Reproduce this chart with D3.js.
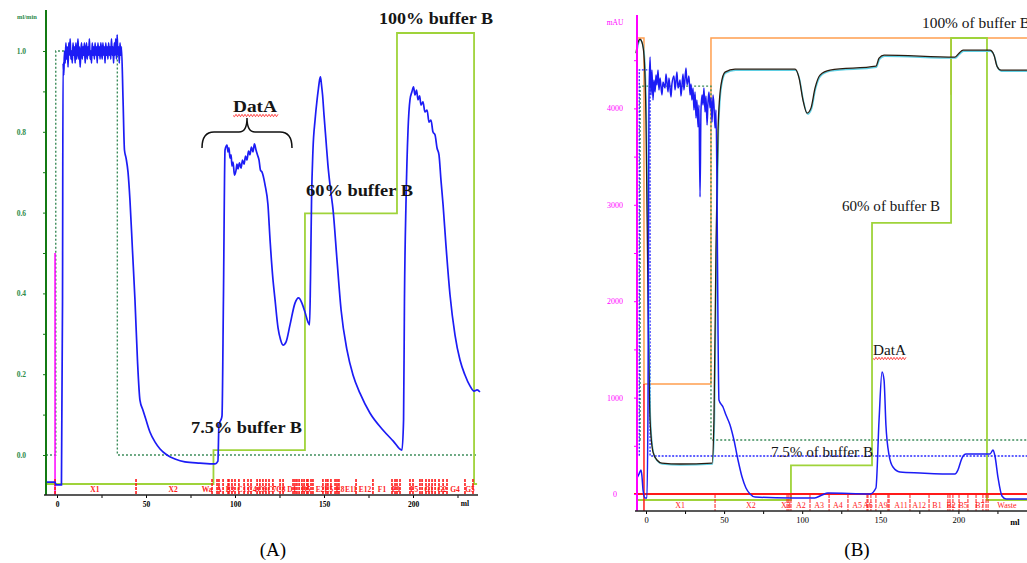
<!DOCTYPE html>
<html>
<head>
<meta charset="utf-8">
<script src="https://cdn.jsdelivr.net/npm/d3@7"></script>
<style>
  body { margin: 0; background: #fff; }
  svg { display: block; }
  text { font-family: "Liberation Serif", "DejaVu Serif", serif; }
</style>
</head>
<body>
<div id="chart"></div>
<script>
// ---------- panel A data (ml, ml/min units of left axis) ----------
const uvA = [
  [-6.2,-0.067],[-1.1,-0.067],[-0.6,-0.074],[2.5,-0.074],[3.1,0.38],[3.4,0.97],
  [3.8,0.94],[4.2,1.00],[4.6,0.97],[5.0,1.02],[5.4,0.98],[5.8,1.01],[6.2,0.96],[6.6,1.02],
  [7.0,0.99],[7.4,1.03],[7.8,0.98],[8.2,1.00],[8.6,0.97],[9.0,1.02],[9.4,0.99],[9.8,1.01],
  [10.2,0.97],[10.6,1.02],[11.0,0.98],[11.4,1.00],[11.8,1.03],[12.2,0.98],[12.6,1.01],
  [13.0,0.96],[13.4,1.00],[13.8,1.02],[14.2,0.98],[14.6,1.01],[15.0,0.99],[15.4,1.02],
  [15.8,0.97],[16.2,1.00],[16.6,1.02],[17.0,0.98],[17.4,1.01],[17.8,0.99],[18.2,1.03],
  [18.6,0.98],[19.0,1.00],[19.4,0.97],[19.8,1.02],[20.2,0.99],[20.6,1.01],[21.0,0.98],
  [21.4,1.02],[21.8,0.99],[22.2,1.01],[22.6,0.97],[23.0,1.02],[23.4,0.99],[23.8,1.01],
  [24.2,0.98],[24.6,1.02],[25.0,1.00],[25.4,0.98],[25.8,1.02],[26.2,0.99],[26.6,1.01],
  [27.0,0.97],[27.4,1.02],[27.8,0.99],[28.2,1.01],[28.6,0.98],[29.0,1.02],[29.4,0.99],
  [29.8,1.01],[30.2,0.98],[30.6,1.03],[31.0,0.99],[31.4,1.01],[31.8,0.97],[32.2,1.02],
  [32.6,0.99],[33.0,1.03],[33.4,0.98],[33.8,1.04],[34.2,0.99],[34.6,1.01],[35.0,0.97],
  [35.4,1.02],[35.8,0.99],[36.2,1.01],
  [37.1,0.88],[37.9,0.755],[38.8,0.735],[39.9,0.70],[41.0,0.63],[42.4,0.507],[43.8,0.384],
  [45.2,0.235],[46.6,0.136],[48.3,0.111],[50.0,0.087],[52.2,0.057],[55.1,0.032],[57.9,0.015],
  [61.8,0.0],[66.3,-0.010],[71.9,-0.017],[80.3,-0.020],[88.8,-0.022],[90.4,-0.015],
  [91.0,0.077],[92.1,0.087],[92.7,0.097],[93.5,0.384],[94.4,0.755],
  [95.5,0.767],[96.1,0.75],[96.6,0.76],[97.2,0.735],[97.8,0.743],[98.3,0.715],[98.9,0.725],
  [99.7,0.693],[100.6,0.705],[101.1,0.72],[101.7,0.708],[102.5,0.723],[103.4,0.71],
  [104.2,0.73],[105.1,0.72],[105.9,0.74],[106.7,0.73],[107.6,0.752],[108.4,0.743],
  [109.2,0.762],[110.1,0.75],[110.9,0.77],[111.8,0.755],[112.6,0.743],[113.5,0.73],
  [114.3,0.705],[115.2,0.70],[116.9,0.668],[118.5,0.62],[119.7,0.532],[121.1,0.446],
  [122.5,0.384],[124.2,0.314],[125.6,0.285],[127.0,0.272],[128.7,0.28],[130.9,0.322],
  [133.7,0.376],[135.7,0.389],[137.6,0.376],[139.3,0.354],[141.0,0.329],[141.9,0.322],
  [142.4,0.433],[143.0,0.631],[143.8,0.755],[145.0,0.83],[146.1,0.879],[146.9,0.908],
  [147.5,0.928],[148.0,0.936],[148.6,0.916],[149.2,0.891],[150.0,0.842],[151.1,0.78],
  [152.2,0.718],[153.7,0.656],[155.1,0.606],[157.3,0.483],[159.6,0.359],[162.9,0.26],
  [166.3,0.198],[170.2,0.153],[175.8,0.104],[183.1,0.062],[188.8,0.035],[193.8,0.012],
  [194.7,0.087],[195.2,0.384],[196.1,0.631],[197.2,0.804],[198.3,0.879],[199.4,0.899],
  [200.3,0.911],[201.1,0.891],[202.0,0.903],[202.8,0.879],[203.7,0.889],[204.5,0.866],
  [205.6,0.874],[206.7,0.849],[207.9,0.854],[209.0,0.824],[210.1,0.829],[211.2,0.80],
  [212.4,0.792],[213.5,0.76],[214.6,0.743],[215.7,0.681],[216.9,0.619],[218.5,0.52],
  [220.8,0.396],[223.6,0.297],[226.4,0.235],[229.2,0.198],[232.0,0.171],[234.3,0.158],
  [236.0,0.161],[237.6,0.156]
];
const flowA = [[-6.2,0],[-0.7,1.0],[33.9,0],[236.0,0]];
const bufferA = [[-6.2,0],[87.9,7.5],[139.3,60],[191.0,100],[234.3,0],[236.0,0]];
const injectA = [[-1.1,0.5],[-1.1,-0.099]];
const fracMarksA = [-1.1,44.4,87.1,89.9,91.0,93.3,96.1,96.6,98.3,100.0,102.2,105.1,107.3,109.0,
  112.4,114.0,115.7,117.4,119.1,121.3,125.3,127.0,132.6,133.7,134.8,136.0,137.6,138.8,140.4,
  141.0,142.7,143.8,149.4,151.1,152.2,153.9,156.2,157.3,158.4,168.0,177.5,188.2,189.9,191.0,
  192.7,198.3,200.0,203.9,205.1,207.3,209.0,210.7,212.4,214.6,216.9,219.1,229.2,233.7];
const fracLabelsA = [[21.3,"X1"],[65.2,"X2"],[84.3,"Wa"],[91.0,"A"],[97.2,"B3"],[103.9,"C1"],
  [109.6,"C4"],[115.2,"C6"],[120.8,"C7"],[125.8,"C8"],[132.0,"D1"],[139.9,"D5"],[147.8,"E2"],
  [152.8,"E5"],[159.0,"E8"],[165.2,"E11"],[173.0,"E12"],[182.6,"F1"],[190.4,"F3"],[200.6,"F5"],
  [209.0,"G1"],[216.3,"G2"],[223.6,"G4"],[232.0,"G5"]];
const flowTicks = [0,0.1,0.2,0.3,0.4,0.5,0.6,0.7,0.8,0.9,1.0];
const mlTicksA = [0,25,50,75,100,125,150,175,200,225];

// ---------- panel B data (ml, mAU) ----------
const uvB = [
  [-5.8,166],[-4.5,207],[-3.2,249],[-2.6,187],[-1.9,41],[-0.6,-41],[0.6,-41],[1.3,975],[1.9,4086],
  [2.6,4533],[3.2,4139],[3.8,4398],[4.5,4087],[5.1,4294],[5.8,4170],[6.4,4346],[7.0,4243],
  [7.7,4398],[8.3,4191],[9.0,4315],[10.2,4139],[10.9,4274],[12.2,4211],[12.8,4357],[14.1,4170],
  [14.7,4315],[16.0,4118],[16.6,4253],[17.9,4336],[18.6,4191],[19.8,4377],[20.5,4211],
  [21.8,4294],[22.4,4128],[23.7,4357],[24.3,4191],[25.6,4419],[26.3,4243],[27.5,4336],
  [28.2,4139],[28.8,4253],[29.4,4087],[30.1,4211],[30.7,3983],[31.4,4170],[32.0,3900],
  [32.6,4087],[33.3,3807],[33.9,4035],[34.6,3081],[35.2,3983],[35.9,4139],[36.5,4035],
  [37.1,4211],[37.8,3962],[38.4,4128],[39.1,3828],[39.7,4066],[40.3,4170],[41.0,4004],
  [41.6,4108],[42.3,3859],[42.9,4139],[43.5,4035],[44.2,3796],[44.8,3983],[45.5,3050],
  [46.1,1701],[46.7,975],[49.3,902],[51.2,819],[53.8,716],[56.3,560],[58.9,353],[61.5,176],
  [64.0,62],[66.6,0],[69.8,-31],[92.0,-41],[108.0,-41],[112.7,-10],[116.5,10],[143.4,0],
  [147.2,62],[149.2,767],[151.1,1265],[152.4,1182],[153.6,716],[155.6,404],[158.1,280],
  [162.6,228],[175.4,218],[197.8,207],[199.7,249],[202.3,373],[204.9,415],[220.2,415],
  [222.2,456],[223.4,394],[225.4,166],[227.9,-21],[230.5,-52],[243.9,-52]
];
const condB = [
  [-6.4,4573],[-5.1,4687],[-3.8,4718],[-2.6,4687],[-1.3,4552],[0,3878],[1.3,2012],[2.6,767],
  [4.5,435],[7.0,353],[10.2,321],[21.8,311],[42.3,321],[43.5,767],[44.8,2530],[46.1,3775],
  [48.0,4241],[50.6,4376],[57.0,4407],[95.4,4407],[98.0,4314],[100.5,4086],[103.1,3951],
  [105.6,4003],[108.2,4210],[111.4,4345],[117.8,4397],[147.2,4438],[149.2,4521],[152.4,4552],
  [197.8,4532],[200.4,4573],[203.0,4604],[220.2,4604],[222.8,4552],[224.7,4438],[227.3,4397],
  [243.9,4397]
];
const concB = [[-5.1,4729],[-1.3,1141],[41.6,4729],[195.2,4150],[195.4,4729],[243.9,4729]];
const flowB = [[-6.4,560],[-3.8,4231],[41.6,560],[243.9,560]];
const baseB = [[-6.4,394],[-4.3,4400],[2.6,394],[243.9,394]];
const bufferB = [[-6.4,0],[92.8,7.5],[144.7,60],[195.3,100],[218.3,0],[243.9,0]];
const injectB = [[-1.3,1141],[-1.3,-176]];
const fracMarksB = [44.2,90.3,91.5,92.8,105.0,117.2,129.3,141.5,142.1,144.0,147.2,154.9,155.6,
  169.0,181.2,193.3,194.6,196.5,200.4,206.1,211.3,215.7,217.7,219.0];
const fracLabelsB = [[21.8,"X1"],[67.2,"X2"],[89.6,"X3"],[99.2,"A2"],[110.8,"A3"],[122.9,"A4"],
  [135.1,"A5"],[142.1,"A6"],[151.7,"A9"],[163.3,"A11"],[174.8,"A12"],[186.3,"B1"],[195.3,"B2"],
  [203.0,"B5"],[213.8,"B7"],[231.1,"Waste"]];
const mAUTicks = [0,500,1000,1500,2000,2500,3000,3500,4000,4500];
const mlTicksB = [0,25,50,75,100,125,150,175,200,225];

// ---------- drawing ----------
const W = 1027, H = 563;
const svg = d3.select("#chart").append("svg").attr("width", W).attr("height", H);
svg.append("rect").attr("width", W).attr("height", H).attr("fill", "#fff");

const BLUE = "#1c1cf5", LGREEN = "#9fd33a", DGREEN = "#3c8c5a", RED = "#ff1a1a",
      MAG = "#ff00ff", ORANGE = "#ff9f4f", AXGREEN = "#137a13";

function squiggle(g, x0, x1, y) {
  let d = "M" + x0 + "," + y;
  for (let x = x0, i = 0; x < x1; x += 1.5, i++) d += "L" + (x + 1.5) + "," + (y + (i % 2 ? -1.2 : 1.2));
  g.append("path").attr("d", d).attr("fill", "none").attr("stroke", RED).attr("stroke-width", 0.8);
}

// ===== Panel A =====
const xA = d3.scaleLinear().domain([0, 100]).range([57, 235]);
const yA = d3.scaleLinear().domain([0, 1]).range([455, 51]);
const gA = d3.scaleLinear().domain([0, 100]).range([484, 33]);
const A = svg.append("g");

const lineA = d3.line().x(d => xA(d[0])).y(d => yA(d[1]));
const stepA = d3.line().x(d => xA(d[0])).y(d => yA(d[1])).curve(d3.curveStepAfter);
const bufA = d3.line().x(d => xA(d[0])).y(d => gA(d[1])).curve(d3.curveStepAfter);

A.append("path").attr("d", stepA(flowA)).attr("fill", "none").attr("stroke", DGREEN)
  .attr("stroke-width", 1.4).attr("stroke-dasharray", "2,2");
A.append("path").attr("d", bufA(bufferA)).attr("fill", "none").attr("stroke", LGREEN).attr("stroke-width", 1.8);
A.append("path").attr("d", lineA(injectA)).attr("stroke", MAG).attr("stroke-width", 1.5);

// fraction marks
A.selectAll(".fmA").data(fracMarksA).enter().append("line")
  .attr("x1", d => xA(d)).attr("x2", d => xA(d)).attr("y1", 479).attr("y2", 495)
  .attr("stroke", RED).attr("stroke-width", 1.6).attr("stroke-dasharray", "3,1");
A.selectAll(".flA").data(fracLabelsA).enter().append("text")
  .attr("x", d => xA(d[0])).attr("y", 492).attr("text-anchor", "middle")
  .attr("font-size", 7.5).attr("font-weight", "bold").attr("fill", RED).text(d => d[1]);

A.append("path").attr("d", lineA.curve(d3.curveMonotoneX)(uvA)).attr("fill", "none")
  .attr("stroke", BLUE).attr("stroke-width", 1.7);

// axes A
const axLA = A.append("g").attr("transform", "translate(46,0)")
  .call(d3.axisLeft(yA).tickValues(flowTicks).tickSize(3).tickPadding(17)
    .tickFormat(d => Math.round(d * 10) % 2 === 0 ? d.toFixed(1) : ""));
axLA.select(".domain").remove();
axLA.selectAll("line").attr("stroke", AXGREEN);
axLA.selectAll("text").attr("fill", "#2e8b4a").attr("font-size", 7.5).attr("font-weight", "bold")
  .attr("font-family", "Liberation Serif");
A.append("line").attr("x1", 46).attr("x2", 46).attr("y1", 10).attr("y2", 495)
  .attr("stroke", AXGREEN).attr("stroke-width", 2);
A.append("text").attr("x", 27).attr("y", 19).attr("text-anchor", "middle").attr("font-size", 6.5)
  .attr("font-weight", "bold").attr("fill", "#2e8b4a").text("ml/min");

const axBA = A.append("g").attr("transform", "translate(0,495)")
  .call(d3.axisBottom(xA).tickValues(mlTicksA).tickSize(3).tickPadding(4)
    .tickFormat(d => d % 50 === 0 ? d : ""));
axBA.select(".domain").remove();
axBA.selectAll("text").attr("font-size", 7.5).attr("font-weight", "bold").attr("font-family", "Liberation Serif");
A.append("line").attr("x1", 44).attr("x2", 478).attr("y1", 495).attr("y2", 495)
  .attr("stroke", "#222").attr("stroke-width", 1.3);
A.append("text").attr("x", 465).attr("y", 506).attr("text-anchor", "middle").attr("font-size", 7.5)
  .attr("font-weight", "bold").text("ml");

// annotations A
function label(g, x, y, t, len, size, bold) {
  g.append("text").attr("x", x).attr("y", y).attr("font-size", size)
    .attr("font-weight", bold ? "bold" : "normal").attr("fill", "#151515")
    .attr("textLength", len).attr("lengthAdjust", "spacingAndGlyphs").text(t);
}
label(A, 379, 24, "100% buffer B", 114, 16, true);
label(A, 306, 196, "60% buffer B", 107, 16, true);
label(A, 191, 433, "7.5% buffer B", 111, 16, true);
label(A, 233, 112, "DatA", 44, 16, true);
squiggle(A, 233, 277, 115.5);
A.append("path").attr("d", "M202,148 Q202,132 214,132 L239,132 Q247,132 247,118 Q247,132 255,132 L280,132 Q292,132 292,148")
  .attr("fill", "none").attr("stroke", "#111").attr("stroke-width", 1.5);

// ===== Panel B =====
const xB = d3.scaleLinear().domain([0, 100]).range([646, 802.2]);
const yB = d3.scaleLinear().domain([0, 1000]).range([494, 397.6]);
const gB = d3.scaleLinear().domain([0, 100]).range([500, 38]);
const B = svg.append("g");

const lineB = d3.line().x(d => xB(d[0])).y(d => yB(d[1]));
const stepB = d3.line().x(d => xB(d[0])).y(d => yB(d[1])).curve(d3.curveStepAfter);
const bufB = d3.line().x(d => xB(d[0])).y(d => gB(d[1])).curve(d3.curveStepAfter);

B.append("path").attr("d", stepB(concB)).attr("fill", "none").attr("stroke", ORANGE).attr("stroke-width", 1.5);
B.append("path").attr("d", stepB(flowB)).attr("fill", "none").attr("stroke", DGREEN)
  .attr("stroke-width", 1.4).attr("stroke-dasharray", "2,2");
B.append("path").attr("d", stepB(baseB)).attr("fill", "none").attr("stroke", "#2a2aff")
  .attr("stroke-width", 1.3).attr("stroke-dasharray", "2,1.5");
B.append("path").attr("d", bufB(bufferB)).attr("fill", "none").attr("stroke", LGREEN).attr("stroke-width", 1.8);

// zero line and fractions
B.append("line").attr("x1", 634).attr("x2", 1027).attr("y1", yB(0)).attr("y2", yB(0))
  .attr("stroke", RED).attr("stroke-width", 2);
B.append("path").attr("d", lineB(injectB)).attr("stroke", RED).attr("stroke-width", 1.5);
B.selectAll(".fmB").data(fracMarksB).enter().append("line")
  .attr("x1", d => xB(d)).attr("x2", d => xB(d)).attr("y1", yB(0)).attr("y2", 511)
  .attr("stroke", RED).attr("stroke-width", 1).attr("stroke-dasharray", "4,1");
B.selectAll(".flB").data(fracLabelsB).enter().append("text")
  .attr("x", d => xB(d[0])).attr("y", 508).attr("text-anchor", "middle")
  .attr("font-size", 8).attr("fill", RED).text(d => d[1]);

// conductivity-like trace with faint cyan shadow
const smoothB = d3.line().x(d => xB(d[0])).y(d => yB(d[1])).curve(d3.curveMonotoneX);
B.append("path").attr("d", smoothB(condB)).attr("fill", "none").attr("stroke", "#5fcfe3")
  .attr("stroke-width", 1.5).attr("transform", "translate(0.5,1)");
B.append("path").attr("d", smoothB(condB)).attr("fill", "none").attr("stroke", "#2a1c10")
  .attr("stroke-width", 1.3);
B.append("path").attr("d", smoothB(uvB)).attr("fill", "none").attr("stroke", BLUE).attr("stroke-width", 1.5);

// axes B
const axLB = B.append("g").attr("transform", "translate(637,0)")
  .call(d3.axisLeft(yB).tickValues(mAUTicks).tickSize(3).tickPadding(4)
    .tickFormat(d => d % 1000 === 0 ? d : ""));
axLB.select(".domain").remove();
axLB.selectAll("line").attr("stroke", MAG);
axLB.selectAll("text").attr("fill", MAG).attr("font-size", 8).attr("text-anchor", "middle")
  .attr("x", -22).attr("font-family", "Liberation Serif");
B.append("line").attr("x1", 637).attr("x2", 637).attr("y1", 15).attr("y2", 511)
  .attr("stroke", MAG).attr("stroke-width", 2);
B.append("text").attr("x", 615).attr("y", 25).attr("text-anchor", "middle").attr("font-size", 7.5)
  .attr("fill", MAG).text("mAU");

const axBB = B.append("g").attr("transform", "translate(0,511)")
  .call(d3.axisBottom(xB).tickValues(mlTicksB).tickSize(3).tickPadding(3)
    .tickFormat(d => d % 50 === 0 ? d : ""));
axBB.select(".domain").remove();
axBB.selectAll("text").attr("font-size", 8.5).attr("font-family", "Liberation Serif");
B.append("line").attr("x1", 635).attr("x2", 1027).attr("y1", 511).attr("y2", 511)
  .attr("stroke", "#222").attr("stroke-width", 1.3);
B.append("text").attr("x", 1015).attr("y", 525).attr("text-anchor", "middle").attr("font-size", 8.5)
  .attr("font-weight", "bold").text("ml");

// annotations B
label(B, 922, 28, "100% of buffer B", 108, 14.5, false);
label(B, 842, 211, "60% of buffer B", 98, 14.5, false);
label(B, 771, 457, "7.5% of buffer B", 102, 14.5, false);
label(B, 873, 355, "DatA", 33, 14.5, false);
squiggle(B, 873, 906, 358.5);

// captions
svg.append("text").attr("x", 273).attr("y", 556).attr("text-anchor", "middle").attr("font-size", 19).text("(A)");
svg.append("text").attr("x", 857).attr("y", 556).attr("text-anchor", "middle").attr("font-size", 19).text("(B)");
</script>
</body>
</html>
